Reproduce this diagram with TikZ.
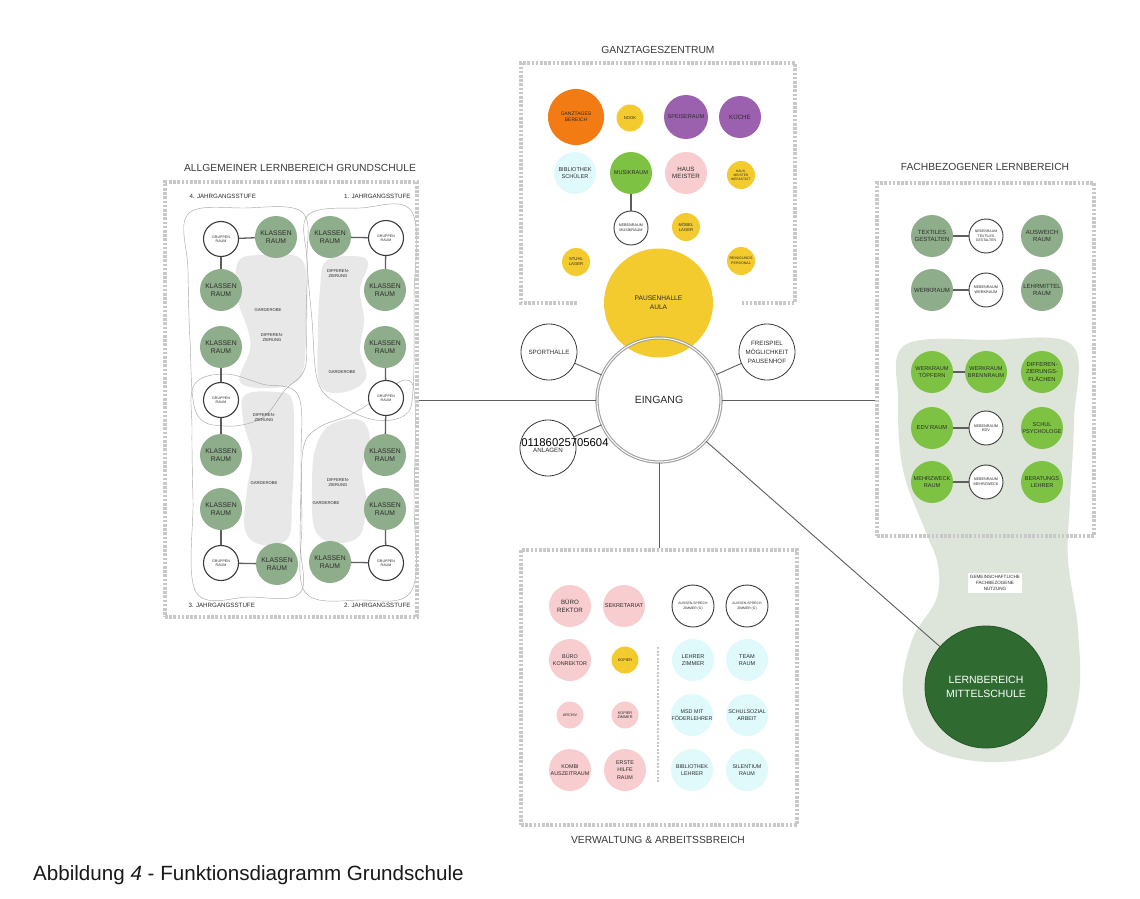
\documentclass[tikz,border=0pt]{standalone}
\usepackage{fontspec}
\setmainfont{Liberation Sans}
\definecolor{txt}{HTML}{2B2B2B}
\definecolor{ln}{HTML}{5E5E5E}
\definecolor{dk}{HTML}{3A3A3A}
\definecolor{boxg}{HTML}{C8C8C8}
\definecolor{orng}{HTML}{F27B14}
\definecolor{yel}{HTML}{F4CB2E}
\definecolor{purp}{HTML}{9B61AE}
\definecolor{cyn}{HTML}{E0FAFC}
\definecolor{grn}{HTML}{7DC242}
\definecolor{pnk}{HTML}{F8CDD0}
\definecolor{sage}{HTML}{8EAD8A}
\definecolor{dgrn}{HTML}{2F6A31}
\definecolor{bgrn}{HTML}{DDE5DA}
\definecolor{bgry}{HTML}{E8E8E8}
\definecolor{cont}{HTML}{A8A8A8}
\tikzset{
  rm/.style={circle, inner sep=0pt, align=center, text=txt},
  big/.style={rm, minimum size=42pt, font=\fontsize{6.2}{7.4}\selectfont},
  sml/.style={rm, minimum size=27pt, font=\fontsize{4.2}{5}\selectfont},
  wht/.style={rm, draw=dk, line width=0.9pt, fill=white, minimum size=34pt, font=\fontsize{3.8}{4.6}\selectfont},
  ring/.style={rm, draw=dk, line width=0.8pt, fill=white, minimum size=56pt, font=\fontsize{6.2}{9}\selectfont},
  kl/.style={big, fill=sage, font=\fontsize{6.8}{8}\selectfont},
  gr/.style={wht, minimum size=35pt, line width=1.1pt, font=\fontsize{3.6}{4.4}\selectfont},
  conn/.style={draw=ln, line width=1.3pt},
  thinln/.style={draw=ln, line width=0.9pt},
  frame/.style={draw=boxg, line width=3.5pt, dash pattern=on 2.6pt off 1.6pt},
  ttl/.style={text=dk, font=\fontsize{10.3}{12}\selectfont},
  lab/.style={text=txt, font=\fontsize{6.2}{7}\selectfont},
  ctr/.style={draw=cont, line width=0.45pt},
  btxt/.style={text=txt, align=center, font=\fontsize{4.2}{5}\selectfont},
}
\begin{document}
\begin{tikzpicture}[x=1pt,y=-1pt]
\useasboundingbox[fill=white] (0,0) rectangle (1140,899);

% ---------- right green blob ----------
\fill[bgrn] plot[smooth cycle, tension=0.6] coordinates {(905,345) (990,340) (1072,345) (1074,420) (1070,500) (1068,560) (1078,630) (1078,700) (1055,748) (990,762) (925,745) (903,695) (912,640) (936,600) (938,565) (925,530) (903,470) (898,400)};

% ---------- left grey blobs ----------
\fill[bgry] plot[smooth cycle, tension=0.6] coordinates {(238,262) (262,255) (300,258) (307,290) (306,340) (300,378) (272,388) (240,382) (250,350) (248,330) (238,300)};
\fill[bgry] plot[smooth cycle, tension=0.6] coordinates {(325,262) (350,256) (368,262) (360,290) (364,320) (360,350) (366,378) (345,392) (320,385) (318,330) (320,290)};
\fill[bgry] plot[smooth cycle, tension=0.6] coordinates {(245,395) (275,392) (292,400) (294,450) (292,500) (288,538) (262,545) (245,530) (247,490) (252,455) (243,420)};
\fill[bgry] plot[smooth cycle, tension=0.6] coordinates {(330,425) (360,420) (370,440) (362,470) (366,500) (360,535) (335,543) (315,530) (312,490) (315,450)};

% ---------- contours ----------
\draw[ctr] plot[smooth cycle, tension=0.6] coordinates {(188,214) (245,208) (302,212) (307,260) (306,320) (305,368) (285,390) (262,418) (225,426) (196,412) (190,340) (188,270)};
\draw[ctr] plot[smooth cycle, tension=0.6] coordinates {(194,385) (225,374) (262,384) (298,395) (301,460) (300,540) (300,593) (250,597) (196,592) (193,500) (192,430)};
\draw[ctr] plot[smooth cycle, tension=0.6] coordinates {(308,215) (360,208) (412,212) (414,300) (413,390) (405,415) (375,420) (340,405) (318,382) (312,320) (307,260)};
\draw[ctr] plot[smooth cycle, tension=0.6] coordinates {(303,450) (318,428) (350,415) (378,398) (405,380) (415,400) (414,500) (412,590) (360,600) (305,592) (302,520)};

% ---------- frames ----------
\node[frame, minimum width=252pt, minimum height=435pt, inner sep=0pt] (lbox) at (291,399.5) {};
\node[frame, minimum width=217pt, minimum height=353pt, inner sep=0pt] (rbox) at (985.5,359.5) {};
\node[frame, minimum width=276pt, minimum height=275pt, inner sep=0pt] (bbox) at (659,687.5) {};
\draw[frame] (577,303) -- (521,303) -- (521,63) -- (795,63) -- (795,303) -- (742,303);

% ---------- titles ----------
\node[ttl] (tgt) at (658,50) {GANZTAGESZENTRUM};
\node[ttl] (tlb) at (300,168) {ALLGEMEINER LERNBEREICH GRUNDSCHULE};
\node[ttl] (tfl) at (985,167) {FACHBEZOGENER LERNBEREICH};
\node[ttl] (tvw) at (658,840) {VERWALTUNG \& ARBEITSSBREICH};

% ---------- left box ----------
\node[lab, anchor=west] (j4) at (186,196) {4. JAHRGANGSSTUFE};
\node[lab, anchor=east] (j1) at (414,196) {1. JAHRGANGSSTUFE};
\node[lab, anchor=west] (j3) at (185,605) {3. JAHRGANGSSTUFE};
\node[lab, anchor=east] (j2) at (414,605) {2. JAHRGANGSSTUFE};

\node[btxt] (b1a) at (268,310) {GARDEROBE};
\node[btxt] (b1b) at (272,338) {DIFFEREN-\\ZIERUNG};
\node[btxt] (b2a) at (338,274) {DIFFEREN-\\ZIERUNG};
\node[btxt] (b2b) at (342,372) {GARDEROBE};
\node[btxt] (b3a) at (264,418) {DIFFEREN-\\ZIERUNG};
\node[btxt] (b3b) at (264,483) {GARDEROBE};
\node[btxt] (b4a) at (338,483) {DIFFEREN-\\ZIERUNG};
\node[btxt] (b4b) at (326,503) {GARDEROBE};

\node[gr] (g4) at (221,239) {GRUPPEN\\RAUM};
\node[kl] (k4a) at (276,237) {KLASSEN\\RAUM};
\node[kl] (k4b) at (221,290) {KLASSEN\\RAUM};
\node[kl] (k4c) at (221,347) {KLASSEN\\RAUM};
\node[gr] (g4b) at (221,400) {GRUPPEN\\RAUM};
\node[kl] (k3a) at (221,455) {KLASSEN\\RAUM};
\node[kl] (k3b) at (221,509) {KLASSEN\\RAUM};
\node[gr] (g3) at (221,563) {GRUPPEN\\RAUM};
\node[kl] (k3c) at (277,564) {KLASSEN\\RAUM};

\node[kl] (k1a) at (330,237) {KLASSEN\\RAUM};
\node[gr] (g1) at (386,238) {GRUPPEN\\RAUM};
\node[kl] (k1b) at (385,290) {KLASSEN\\RAUM};
\node[kl] (k1c) at (385,347) {KLASSEN\\RAUM};
\node[gr] (g1b) at (386,398) {GRUPPEN\\RAUM};
\node[kl] (k2a) at (385,455) {KLASSEN\\RAUM};
\node[kl] (k2b) at (385,509) {KLASSEN\\RAUM};
\node[gr] (g2) at (386,563) {GRUPPEN\\RAUM};
\node[kl] (k2c) at (330,562) {KLASSEN\\RAUM};

\draw[conn] (g4) -- (k4a);
\draw[conn] (g4) -- (k4b);
\draw[conn] (k4c) -- (g4b);
\draw[conn] (g4b) -- (k3a);
\draw[conn] (k3b) -- (g3);
\draw[conn] (g3) -- (k3c);
\draw[conn] (k1a) -- (g1);
\draw[conn] (g1) -- (k1b);
\draw[conn] (k1c) -- (g1b);
\draw[conn] (g1b) -- (k2a);
\draw[conn] (k2b) -- (g2);
\draw[conn] (g2) -- (k2c);

% ---------- top box ----------
\node[big, fill=orng, minimum size=56pt, font=\fontsize{5}{6.2}\selectfont] (gtb) at (576,117) {GANZTAGES\\BEREICH};
\node[sml, fill=yel] (nook) at (630,118) {NOOK};
\node[big, fill=purp, minimum size=44pt, font=\fontsize{5.6}{6.6}\selectfont] (speise) at (686,117) {SPEISERAUM};
\node[big, fill=purp] (kueche) at (740,117) {KÜCHE};
\node[big, fill=cyn, font=\fontsize{5.6}{7.2}\selectfont] (bib) at (575,173) {BIBLIOTHEK\\SCHÜLER};
\node[big, fill=grn, font=\fontsize{5.6}{6.6}\selectfont] (musik) at (631,173) {MUSIKRAUM};
\node[big, fill=pnk] (haus) at (686,173) {HAUS\\MEISTER};
\node[sml, fill=yel, minimum size=28pt, font=\fontsize{3.3}{4}\selectfont] (hmw) at (741,175) {HAUS-\\MEISTER\\WERKSTATT};
\node[wht] (nbm) at (631,228) {NEBENRAUM\\MUSIKRAUM};
\node[sml, fill=yel, minimum size=28pt] (moebel) at (686,227) {MÖBEL\\LAGER};
\node[sml, fill=yel, minimum size=28pt] (stuhl) at (576,262) {STUHL\\LAGER};
\node[sml, fill=yel, minimum size=28pt, font=\fontsize{3.6}{4.6}\selectfont] (reinig) at (741,261) {REINIGUNGS\\PERSONAL};
\draw[conn] (musik) -- (nbm);
\node[big, fill=yel, minimum size=109pt, font=\fontsize{6.6}{9}\selectfont] (pausen) at (658.5,303) {PAUSENHALLE\\AULA};

% ---------- centre ----------
\node[circle, minimum size=124pt, inner sep=0pt, draw=gray!75, line width=1.1pt, double=white, double distance=1pt, text=txt, font=\fontsize{10.5}{12}\selectfont] (eingang) at (659,400) {EINGANG};
\node[ring] (sport) at (549,352) {SPORTHALLE};
\node[ring] (frei) at (767,352) {FREISPIEL\\MÖGLICHKEIT\\PAUSENHOF};
\node[ring] (anl) at (548,448) {\mbox{}\\ANLAGEN};
\node[text=black, font=\fontsize{11.3}{12}\selectfont] (num) at (565,443) {01186025705604};
\draw[thinln] (sport) -- (eingang);
\draw[thinln] (frei) -- (eingang);
\draw[thinln] (anl) -- (eingang);
\draw[thinln] (eingang.west) -- (eingang.west -| lbox.east);
\draw[thinln] (eingang.east) -- (eingang.east -| rbox.west);
\draw[thinln] (eingang.south) -- (eingang.south |- bbox.north);

% ---------- right box ----------
\node[kl, font=\fontsize{6}{7.4}\selectfont] (tex) at (932,236) {TEXTILES\\GESTALTEN};
\node[wht, font=\fontsize{3.5}{4.3}\selectfont] (ntex) at (986,236) {NEBENRAUM\\TEXTILES\\GESTALTEN};
\node[kl, font=\fontsize{6}{7.4}\selectfont] (ausw) at (1042,236) {AUSWEICH\\RAUM};
\node[kl, font=\fontsize{6}{7.4}\selectfont] (werk) at (932,290) {WERKRAUM};
\node[wht] (nwerk) at (986,290) {NEBENRAUM\\WERKRAUM};
\node[kl, font=\fontsize{6}{7.4}\selectfont] (lehrm) at (1042,290) {LEHRMITTEL\\RAUM};
\node[big, fill=grn, font=\fontsize{5.6}{7}\selectfont] (toepf) at (932,372) {WERKRAUM\\TÖPFERN};
\node[big, fill=grn, font=\fontsize{5.6}{7}\selectfont] (brenn) at (986,372) {WERKRAUM\\BRENNRAUM};
\node[big, fill=grn, font=\fontsize{5.8}{7.2}\selectfont] (diff) at (1042,372) {DIFFEREN-\\ZIERUNGS-\\FLÄCHEN};
\node[big, fill=grn, font=\fontsize{5.8}{7}\selectfont] (edv) at (932,428) {EDV RAUM};
\node[wht] (nedv) at (986,428) {NEBENRAUM\\EDV};
\node[big, fill=grn, font=\fontsize{5.6}{7.2}\selectfont] (psy) at (1042,428) {SCHUL\\PSYCHOLOGE};
\node[big, fill=grn, font=\fontsize{5.6}{7.2}\selectfont] (mehr) at (932,482) {MEHRZWECK\\RAUM};
\node[wht] (nmehr) at (986,482) {NEBENRAUM\\MEHRZWECK};
\node[big, fill=grn, font=\fontsize{5.6}{7.2}\selectfont] (berat) at (1042,482) {BERATUNGS\\LEHRER};
\draw[conn] (tex) -- (ntex);
\draw[conn] (werk) -- (nwerk);
\draw[conn] (toepf) -- (brenn);
\draw[conn] (edv) -- (nedv);
\draw[conn] (mehr) -- (nmehr);

\node[fill=white, text=txt, align=center, inner sep=2pt, font=\fontsize{4.6}{6}\selectfont] (gem) at (995,583) {GEMEINSCHAFTLICHE\\FACHBEZOGENE\\NUTZUNG};
\node[circle, minimum size=122pt, inner sep=0pt, fill=dgrn, draw=dgrn!80!black, line width=0.8pt, text=white, align=center, font=\fontsize{10.5}{14}\selectfont] (mittel) at (986,687) {LERNBEREICH\\MITTELSCHULE};
\draw[thinln] (eingang) -- (mittel);

% ---------- bottom box ----------
\node[big, fill=pnk] (brek) at (570,606) {BÜRO\\REKTOR};
\node[big, fill=pnk, font=\fontsize{5.6}{6.6}\selectfont] (sekr) at (624,606) {SEKRETARIAT};
\node[wht, minimum size=42pt, font=\fontsize{3.4}{5}\selectfont] (as1) at (693,606) {AUSSEN-SPRECH\\ZIMMER (G)};
\node[wht, minimum size=42pt, font=\fontsize{3.4}{5}\selectfont] (as2) at (747,606) {AUSSEN-SPRECH\\ZIMMER (G)};
\node[big, fill=pnk, font=\fontsize{5.4}{7.2}\selectfont] (bkon) at (570,660) {BÜRO\\KONREKTOR};
\node[sml, fill=yel, font=\fontsize{3.8}{4.6}\selectfont] (kop) at (625,660) {KOPIER};
\node[big, fill=cyn, font=\fontsize{5.6}{7.2}\selectfont] (lz) at (693,660) {LEHRER\\ZIMMER};
\node[big, fill=cyn, font=\fontsize{5.6}{7.2}\selectfont] (team) at (747,660) {TEAM\\RAUM};
\node[sml, fill=pnk, font=\fontsize{3.8}{4.6}\selectfont] (arch) at (570,715) {ARCHIV};
\node[sml, fill=pnk, font=\fontsize{3.8}{4.6}\selectfont] (kopz) at (625,715) {KOPIER\\ZIMMER};
\node[big, fill=cyn, font=\fontsize{5.4}{7.2}\selectfont] (msd) at (692,715) {MSD MIT\\FÖDERLEHRER};
\node[big, fill=cyn, font=\fontsize{5.4}{7.2}\selectfont] (schs) at (747,715) {SCHULSOZIAL\\ARBEIT};
\node[big, fill=pnk, font=\fontsize{5.4}{7.2}\selectfont] (kombi) at (570,770) {KOMBI\\AUSZEITRAUM};
\node[big, fill=pnk, font=\fontsize{5.4}{7.2}\selectfont] (erste) at (625,770) {ERSTE\\HILFE\\RAUM};
\node[big, fill=cyn, font=\fontsize{5.4}{7.2}\selectfont] (biblz) at (692,770) {BIBLIOTHEK\\LEHRER};
\node[big, fill=cyn, font=\fontsize{5.4}{7.2}\selectfont] (silent) at (747,770) {SILENTIUM\\RAUM};
\coordinate (divtop) at (658,647);
\coordinate (divbot) at (658,783);
\draw[boxg, line width=2pt, dash pattern=on 2pt off 1.5pt] (divtop) -- (divbot);

% ---------- caption ----------
\node[anchor=base west, text=black!90, font=\fontsize{20.6}{24}\selectfont, inner sep=0pt] (cap) at (33,880) {Abbildung \textit{4} - Funktionsdiagramm Grundschule};
\end{tikzpicture}
\end{document}
